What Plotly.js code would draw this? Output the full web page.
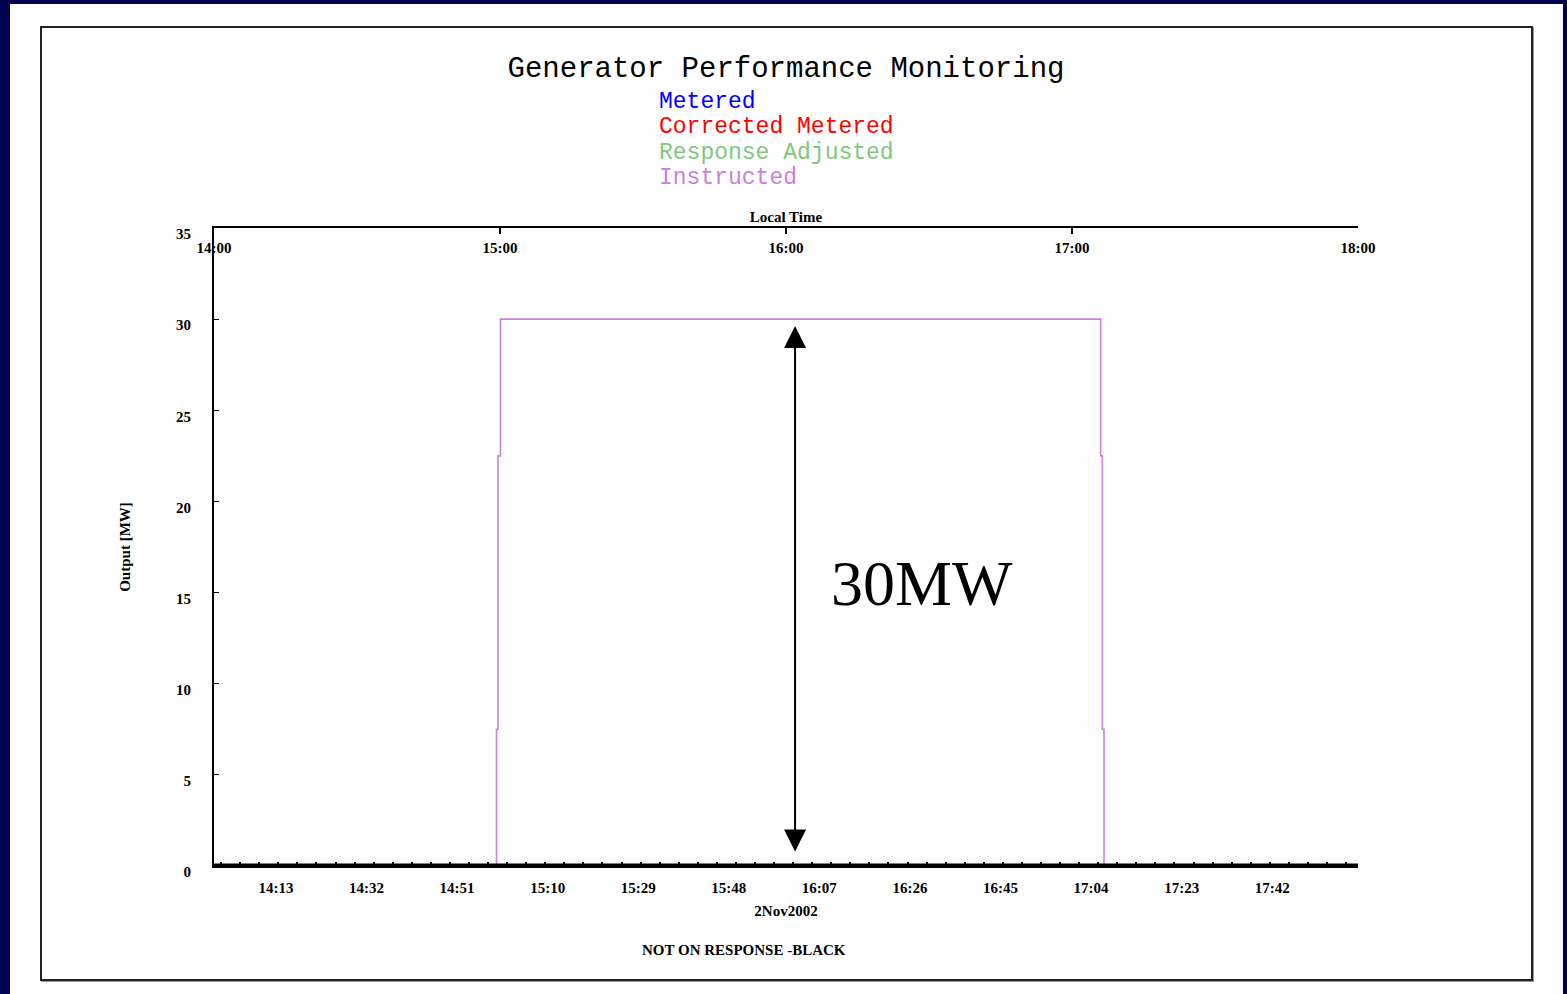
<!DOCTYPE html>
<html>
<head>
<meta charset="utf-8">
<script src="https://cdn.plot.ly/plotly-3.0.1.min.js"></script>
<style>
  html, body { margin:0; padding:0; width:1567px; height:994px; background:#000050; overflow:hidden; }
  #sheet { position:absolute; left:10px; top:4px; width:1553px; height:990px; background:#ffffff; }
  #frame { position:absolute; left:40px; top:26px; width:1489px; height:951px; border:2px solid #222; box-shadow:1px 1px 0 #999; }
  #chart { position:absolute; left:0; top:0; width:1567px; height:994px; }
</style>
</head>
<body>
<div id="sheet"></div>
<div id="frame"></div>
<div id="chart"></div>
<script>
// ---- data ----
const chartTitle = 'Generator Performance Monitoring';
const seriesNames = ['Metered', 'Corrected Metered', 'Response Adjusted', 'Instructed'];
const seriesColors = ['#0000ff', '#ff0000', '#80c880', '#cc80dc'];

const instructedTime = ['2002-11-02 14:00:00', '2002-11-02 14:59:16', '2002-11-02 14:59:35', '2002-11-02 15:00:06',
                        '2002-11-02 17:06:00', '2002-11-02 17:06:22', '2002-11-02 17:06:43', '2002-11-02 18:00:00'];
const instructedMW = [0, 7.5, 22.5, 30, 22.5, 7.5, 0, 0];

const notOnResponseTime = ['2002-11-02 14:00:00', '2002-11-02 18:00:00'];
const notOnResponseMW = [0, 0];

const xRange = ['2002-11-02 14:00:00', '2002-11-02 18:00:00'];
const bottomTick0 = '2002-11-02 14:13:00';
const bottomTickMinutes = 19;
const topTickMinutes = 60;
const yRange = [0, 35];
const yTickStep = 5;

const arrowTime = '2002-11-02 16:01:54';
const arrowFromMW = 0.8;
const arrowToMW = 29.7;
const arrowLabel = '30MW';

const dateLabel = '2Nov2002';
const statusLabel = 'NOT ON RESPONSE -BLACK';
const topAxisTitle = 'Local Time';
const yAxisTitle = 'Output [MW]';

// ---- layout helpers (pixel -> paper) ----
const W = 1567, H = 994, L = 214, R = 209, T = 228, B = 128;
const pw = W - L - R, ph = H - T - B;
const px = x => (x - L) / pw;
const py = y => (H - B - y) / ph;

const tickFont = { family: 'Liberation Serif', size: 15, color: '#000', weight: 'bold' };
const monoFont = 'Liberation Mono';

const traces = [
  {
    x: instructedTime, y: instructedMW, type: 'scatter', mode: 'lines',
    line: { color: seriesColors[3], width: 1.6, shape: 'hv' }, name: seriesNames[3],
    xaxis: 'x', yaxis: 'y', hoverinfo: 'skip'
  },
  {
    x: notOnResponseTime, y: notOnResponseMW, type: 'scatter', mode: 'lines',
    line: { color: '#000000', width: 5 }, name: 'Not on response',
    xaxis: 'x', yaxis: 'y', hoverinfo: 'skip', cliponaxis: false
  },
  { x: xRange, y: [null, null], type: 'scatter', mode: 'lines', xaxis: 'x2', yaxis: 'y', showlegend: false, hoverinfo: 'skip' },
  { x: xRange, y: [null, null], type: 'scatter', mode: 'lines', xaxis: 'x3', yaxis: 'y', showlegend: false, hoverinfo: 'skip' }
];

const legendYs = [102, 127, 153, 178];
const annotations = seriesNames.map((n, i) => ({
  text: n, xref: 'paper', yref: 'paper', x: px(657), y: py(legendYs[i]),
  xanchor: 'left', yanchor: 'middle', showarrow: false,
  font: { family: monoFont, size: 23, color: seriesColors[i] }
}));

annotations.push({
  x: arrowTime, y: arrowFromMW, ax: arrowTime, ay: arrowToMW, xref: 'x', yref: 'y', axref: 'x', ayref: 'y',
  showarrow: true, arrowside: 'end+start', arrowhead: 2, arrowwidth: 2, arrowsize: 2.2, arrowcolor: '#000', text: '', standoff: 0, startstandoff: 0
});
annotations.push({
  text: arrowLabel, xref: 'paper', yref: 'paper', x: px(829), y: py(583), xanchor: 'left', yanchor: 'middle',
  showarrow: false, font: { family: 'Liberation Serif', size: 64, color: '#000' }
});
annotations.push({
  text: statusLabel, xref: 'paper', yref: 'paper', x: px(744), y: py(950), xanchor: 'center', yanchor: 'middle',
  showarrow: false, font: tickFont
});

const layout = {
  width: W, height: H,
  margin: { l: L, r: R, t: T, b: B },
  paper_bgcolor: 'rgba(0,0,0,0)', plot_bgcolor: 'rgba(0,0,0,0)',
  showlegend: false,
  title: { text: chartTitle, xref: 'container', yref: 'container', x: 786 / W, y: 1 - 67 / H,
           xanchor: 'center', yanchor: 'middle', font: { family: monoFont, size: 29, color: '#000' } },
  xaxis: {
    type: 'date', range: xRange, showgrid: false, zeroline: false,
    showline: true, linecolor: '#000', linewidth: 2,
    tick0: bottomTick0, dtick: bottomTickMinutes * 60000, tickformat: '%H:%M',
    ticks: '', ticklabelstandoff: 7, tickfont: tickFont,
    minor: { tick0: '2002-11-02 14:01:30', dtick: 4 * 60000, ticks: 'inside', ticklen: 4, tickwidth: 2, tickcolor: '#000', showgrid: false },
    title: { text: dateLabel, font: tickFont, standoff: 10 },
    automargin: false, fixedrange: true
  },
  xaxis2: {
    type: 'date', range: xRange, overlaying: 'x', side: 'top', anchor: 'y',
    showgrid: false, zeroline: false, showline: true, linecolor: '#000', linewidth: 2,
    tick0: xRange[0], dtick: topTickMinutes * 60000,
    ticks: 'inside', ticklen: 6, tickwidth: 2, tickcolor: '#000', showticklabels: false,
    title: { text: topAxisTitle, font: tickFont, standoff: 0 },
    automargin: false, fixedrange: true
  },
  xaxis3: {
    type: 'date', range: xRange, overlaying: 'x', side: 'top', anchor: 'free', position: py(256),
    showgrid: false, zeroline: false, showline: false, ticks: '',
    tick0: xRange[0], dtick: topTickMinutes * 60000, tickformat: '%H:%M', tickfont: tickFont,
    automargin: false, fixedrange: true
  },
  yaxis: {
    range: yRange, dtick: yTickStep, showgrid: false, zeroline: false,
    showline: true, linecolor: '#000', linewidth: 2,
    ticks: 'inside', ticklen: 5, tickwidth: 1, tickcolor: '#000',
    tickfont: tickFont, ticklabelstandoff: 18, ticklabelshift: 6,
    title: { text: yAxisTitle, font: tickFont, standoff: 42 },
    automargin: false, fixedrange: true
  },
  annotations: annotations
};

Plotly.newPlot('chart', traces, layout, { displayModeBar: false, staticPlot: true });
</script>
</body>
</html>
